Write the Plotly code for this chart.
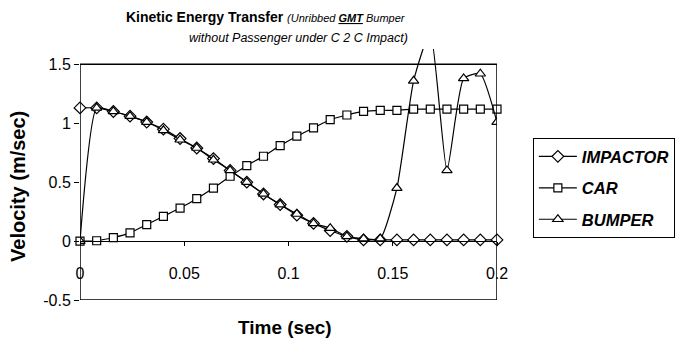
import plotly.graph_objects as go

time_s = [0.0, 0.008, 0.016, 0.024, 0.032, 0.040, 0.048, 0.056, 0.064, 0.072,
          0.080, 0.088, 0.096, 0.104, 0.112, 0.120, 0.128, 0.136, 0.144, 0.152,
          0.160, 0.168, 0.176, 0.184, 0.192, 0.200]
impactor = [1.13, 1.13, 1.10, 1.06, 1.01, 0.95, 0.87, 0.79, 0.70, 0.60,
            0.50, 0.40, 0.31, 0.22, 0.15, 0.09, 0.04, 0.01, 0.01, 0.01,
            0.01, 0.01, 0.01, 0.01, 0.01, 0.01]
car = [0.0, 0.003, 0.03, 0.07, 0.14, 0.21, 0.28, 0.36, 0.45, 0.55,
       0.64, 0.72, 0.81, 0.89, 0.96, 1.03, 1.07, 1.10, 1.11, 1.11,
       1.12, 1.12, 1.12, 1.12, 1.12, 1.12]
bumper = [0.0, 1.13, 1.10, 1.06, 1.01, 0.94, 0.86, 0.79, 0.69, 0.60,
          0.50, 0.40, 0.31, 0.23, 0.15, 0.11, 0.04, 0.02, 0.02, 0.45,
          1.36, 1.78, 0.60, 1.38, 1.42, 1.01]
series_names = ["IMPACTOR", "CAR", "BUMPER"]
y_ticks = [-0.5, 0, 0.5, 1, 1.5]
y_tick_text = ["-0.5", "0", "0.5", "1", "1.5"]
x_ticks = [0, 0.05, 0.1, 0.15, 0.2]
x_tick_text = ["0", "0.05", "0.1", "0.15", "0.2"]

FONT = "Liberation Sans, Arial, sans-serif"
symbols = ["diamond", "square", "triangle-up"]
sizes = [9, 8, 9]
data = [impactor, car, bumper]

fig = go.Figure()
for name, vals, sym, sz in zip(series_names, data, symbols, sizes):
    fig.add_trace(go.Scatter(
        x=time_s, y=vals, name=name, mode="lines+markers",
        legendgroup=name,
        line=dict(color="black", width=1.2, shape="spline", smoothing=0.5),
        marker=dict(symbol=sym, size=sz, color="white",
                    line=dict(color="black", width=1.2)),
        cliponaxis=False if name != "BUMPER" else True,
    ))

ymin, ymax = -0.5, 1.63
fig.update_layout(
    width=686, height=342,
    margin=dict(l=80, r=189, t=49, b=42, autoexpand=False),
    paper_bgcolor="white", plot_bgcolor="white",
    font=dict(family=FONT, color="black"),
    showlegend=True,
    legend=dict(
        x=1.086, y=0.645, xanchor="left", yanchor="top",
        bordercolor="black", borderwidth=1,
        font=dict(family=FONT, size=16.5, weight="bold", style="italic"),
        itemwidth=38, tracegroupgap=7,
    ),
    xaxis=dict(
        range=[0, 0.2], tickvals=x_ticks, ticktext=x_tick_text,
        anchor="free", position=(0 - ymin) / (ymax - ymin),
        showline=True, linecolor="black", linewidth=1,
        ticks="outside", ticklen=4, tickcolor="black",
        ticklabelstandoff=14,
        showgrid=False, zeroline=False,
        tickfont=dict(family=FONT, size=16),
    ),
    yaxis=dict(
        range=[ymin, ymax], tickvals=y_ticks, ticktext=y_tick_text,
        showline=False, ticks="outside", ticklen=5, tickcolor="black",
        showgrid=False, zeroline=False,
        tickfont=dict(family=FONT, size=16),
    ),
    shapes=[dict(type="rect", xref="x", yref="y", x0=0, x1=0.2, y0=-0.5, y1=1.5,
                 line=dict(color="black", width=1.5), layer="above")],
    annotations=[
        dict(text="<b>Kinetic Energy Transfer</b> <i><span style='font-size:11px'>(Unribbed <b><u>GMT</u></b> Bumper</span></i>",
             xref="paper", yref="paper", x=0.445, y=1.127, showarrow=False,
             font=dict(family=FONT, size=14), xanchor="center", yanchor="middle"),
        dict(text="<i>without Passenger under C 2 C Impact)</i>",
             xref="paper", yref="paper", x=0.525, y=1.044, showarrow=False,
             font=dict(family=FONT, size=12.5), xanchor="center", yanchor="middle"),
        dict(text="<b>Time (sec)</b>", xref="paper", yref="paper", x=0.492, y=-0.108,
             showarrow=False, font=dict(family=FONT, size=19), xanchor="center", yanchor="middle"),
        dict(text="<b>Velocity (m/sec)</b>", xref="paper", yref="paper", x=-0.149, y=0.454,
             showarrow=False, textangle=-90, font=dict(family=FONT, size=20),
             xanchor="center", yanchor="middle"),
    ],
)

fig.write_html("out.html")
